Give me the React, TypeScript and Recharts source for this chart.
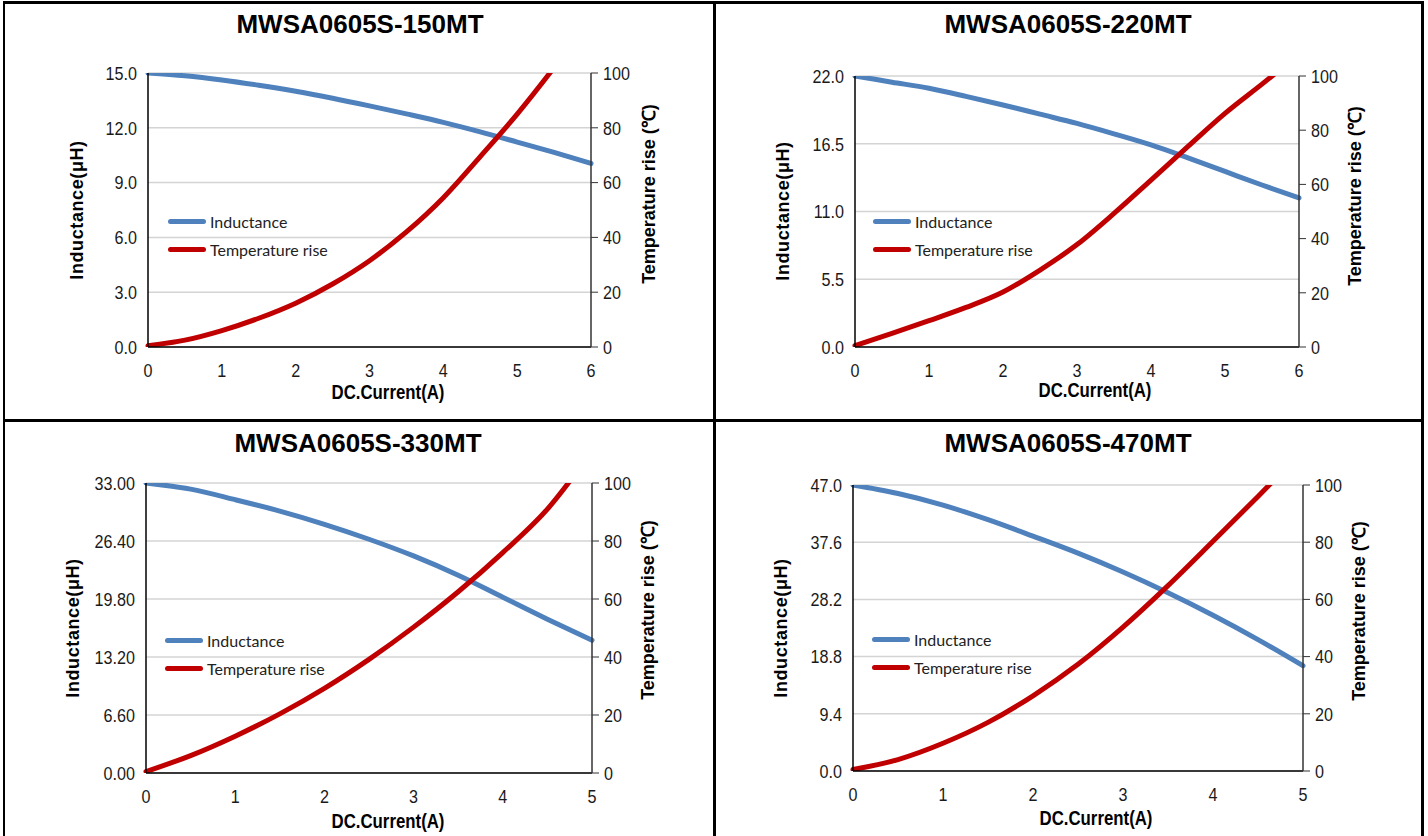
import React from "react";
import {
  LineChart,
  Line,
  XAxis,
  YAxis,
  CartesianGrid,
  Legend,
} from "recharts";

// ---- data ----
const titles = [
  "MWSA0605S-150MT",
  "MWSA0605S-220MT",
  "MWSA0605S-330MT",
  "MWSA0605S-470MT",
];

const current6 = [0, 0.5, 1, 1.5, 2, 2.5, 3, 3.5, 4, 4.5, 5, 5.5, 6];
const current5 = [0, 0.5, 1, 1.5, 2, 2.5, 3, 3.5, 4, 4.5, 5];

const inductance150 = [15.0, 14.85, 14.62, 14.33, 14.0, 13.62, 13.2, 12.76, 12.3, 11.78, 11.22, 10.65, 10.05];
const inductance220 = [22.0, 21.5, 21.0, 20.35, 19.65, 18.9, 18.15, 17.3, 16.4, 15.35, 14.25, 13.15, 12.1];
const inductance330 = [33.0, 32.3, 31.1, 29.8, 28.3, 26.6, 24.7, 22.5, 20.0, 17.5, 15.1];
const inductance470 = [47.0, 45.6, 43.7, 41.3, 38.6, 35.8, 32.7, 29.3, 25.6, 21.6, 17.3];

// temperature rise keeps going past 100 ℃; the axis clips it like the datasheet
const tempRise150 = [0.5, 2.5, 6, 10.5, 16, 23, 31.5, 42, 54.5, 69.5, 85, 102, 120];
const tempRise220 = [0.5, 5, 9.7, 14.6, 20.3, 28.4, 37.8, 49.3, 61.6, 74, 86.2, 97, 108];
const tempRise330 = [0.5, 6, 12.7, 20.4, 29.2, 39.2, 50.3, 62.5, 76, 91, 111];
const tempRise470 = [0.5, 4, 9.7, 17, 26.3, 37.3, 50.3, 64.8, 80.3, 96, 112];

const ticks150 = [0, 3, 6, 9, 12, 15];
const ticks220 = [0, 5.5, 11, 16.5, 22];
const ticks330 = [0, 6.6, 13.2, 19.8, 26.4, 33];
const ticks470 = [0, 9.4, 18.8, 28.2, 37.6, 47];
const tempTicks = [0, 20, 40, 60, 80, 100];

const BLUE = "#4F81BD";
const RED = "#C00000";
const SANS = "'Liberation Sans', Arial, sans-serif";
const NARROW = 0.85; // horizontal squeeze to mimic Arial Narrow

const YW = 60;
const XH = 30;

type PanelProps = {
  title: string;
  cell: { x: number; y: number; w: number; h: number };
  plot: { l: number; r: number; t: number; b: number };
  titleY: number;
  titleX: number;
  leftTitle: { x: number; y: number };
  rightTitle: { x: number; y: number };
  xTitle: { x: number; y: number };
  legendPos: { x: number; y: number };
  current: number[];
  inductance: number[];
  tempRise: number[];
  lTicks: number[];
  digits: number;
  xMax: number;
};

// narrow tick label: Liberation Sans squeezed horizontally
function NarrowTick(props: any) {
  const { x, y, payload, textAnchor, digits } = props;
  const label =
    typeof digits === "number" ? Number(payload.value).toFixed(digits) : String(payload.value);
  const dy = props.verticalAnchor === "start" ? "0.71em" : "0.355em";
  return (
    <g transform={`translate(${x},${y}) scale(${NARROW},1)`}>
      <text
        x={0}
        y={0}
        dy={dy}
        textAnchor={textAnchor}
        fontFamily={SANS}
        fontSize={19}
        fill="#1a1a1a"
      >
        {label}
      </text>
    </g>
  );
}

function renderLegend(props: any) {
  const { payload } = props;
  return (
    <div>
      {payload.map((e: any) => (
        <div
          key={e.value}
          style={{ display: "flex", alignItems: "center", height: 28 }}
        >
          <span
            style={{
              display: "inline-block",
              width: 38,
              height: 5,
              borderRadius: 3,
              background: e.color,
            }}
          />
          <span
            style={{
              marginLeft: 4,
              fontFamily: "Lato, 'Open Sans', sans-serif",
              fontSize: 16,
              color: "#222",
            }}
          >
            {e.value}
          </span>
        </div>
      ))}
    </div>
  );
}

function Panel(p: PanelProps) {
  const { cell, plot } = p;
  const margin = {
    left: plot.l - cell.x - YW,
    right: cell.x + cell.w - plot.r - YW,
    top: plot.t - cell.y,
    bottom: cell.y + cell.h - plot.b - XH,
  };
  const data = p.current.map((c, i) => ({
    x: c,
    ind: p.inductance[i],
    temp: p.tempRise[i],
  }));
  const xTicks = Array.from({ length: p.xMax + 1 }, (_, i) => i);
  const axisTitle: React.CSSProperties = {
    position: "absolute",
    fontFamily: SANS,
    fontWeight: "bold",
    fontSize: 18,
    whiteSpace: "nowrap",
    color: "#000",
  };

  return (
    <>
      <div
        style={{
          position: "absolute",
          left: cell.x,
          top: cell.y,
          width: cell.w,
          height: cell.h,
        }}
      >
        <LineChart width={cell.w} height={cell.h} data={data} margin={margin}>
          <CartesianGrid
            vertical={false}
            yAxisId="left"
            stroke="#d4d4d4"
            strokeWidth={1.5}
          />
          <XAxis
            dataKey="x"
            type="number"
            domain={[0, p.xMax]}
            ticks={xTicks}
            height={XH}
            tickSize={0}
            tickMargin={16}
            tick={<NarrowTick />}
            axisLine={{ stroke: "#000", strokeWidth: 1.5 }}
          />
          <YAxis
            yAxisId="left"
            orientation="left"
            type="number"
            domain={[0, p.lTicks[p.lTicks.length - 1]]}
            ticks={p.lTicks}
            width={YW}
            tickLine={false}
            tickSize={6}
            tickMargin={5}
            tick={<NarrowTick digits={p.digits} />}
            axisLine={{ stroke: "#000", strokeWidth: 1.5 }}
            allowDataOverflow
          />
          <YAxis
            yAxisId="right"
            orientation="right"
            type="number"
            domain={[0, 100]}
            ticks={tempTicks}
            width={YW}
            tickSize={7}
            tickMargin={5}
            tickLine={{ stroke: "#333" }}
            tick={<NarrowTick />}
            axisLine={{ stroke: "#333", strokeWidth: 1.5 }}
            allowDataOverflow
          />
          <Legend
            layout="horizontal"
            align="center"
            verticalAlign="middle"
            content={renderLegend}
            wrapperStyle={{
              position: "absolute",
              left: p.legendPos.x - cell.x,
              top: p.legendPos.y - cell.y - 14,
              width: "auto",
              height: "auto",
            }}
          />
          <Line
            yAxisId="left"
            dataKey="ind"
            name="Inductance"
            type="monotone"
            stroke={BLUE}
            strokeWidth={5}
            strokeLinecap="round"
            dot={false}
            activeDot={false}
            isAnimationActive={false}
          />
          <Line
            yAxisId="right"
            dataKey="temp"
            name="Temperature rise"
            type="monotone"
            stroke={RED}
            strokeWidth={5}
            strokeLinecap="round"
            dot={false}
            activeDot={false}
            isAnimationActive={false}
          />
        </LineChart>
      </div>
      <div
        style={{
          position: "absolute",
          left: p.titleX,
          top: p.titleY,
          transform: "translate(-50%, -50%)",
          fontFamily: SANS,
          fontWeight: "bold",
          fontSize: 26,
          whiteSpace: "nowrap",
        }}
      >
        {p.title}
      </div>
      <div
        style={{
          ...axisTitle,
          left: p.leftTitle.x,
          top: p.leftTitle.y,
          letterSpacing: 0.6,
          transform: "translate(-50%, -50%) rotate(-90deg)",
        }}
      >
        Inductance(μH)
      </div>
      <div
        style={{
          ...axisTitle,
          left: p.rightTitle.x,
          top: p.rightTitle.y,
          transform: "translate(-50%, -50%) rotate(-90deg)",
        }}
      >
        Temperature rise (℃)
      </div>
      <div
        style={{
          ...axisTitle,
          fontSize: 21,
          left: p.xTitle.x,
          top: p.xTitle.y,
          transform: `translate(-50%, -50%) scale(0.8, 1)`,
        }}
      >
        DC.Current(A)
      </div>
    </>
  );
}

function Border({ l, t, w, h }: { l: number; t: number; w: number; h: number }) {
  return (
    <div
      style={{
        position: "absolute",
        left: l,
        top: t,
        width: w,
        height: h,
        background: "#000",
        zIndex: 5,
      }}
    />
  );
}

export default function App() {
  return (
    <div
      style={{
        position: "absolute",
        left: 0,
        top: 0,
        width: 1428,
        height: 836,
        background: "#fff",
        overflow: "hidden",
      }}
    >
      <Panel
        title={titles[0]}
        cell={{ x: 0, y: 0, w: 714, h: 419 }}
        plot={{ l: 148, r: 591, t: 73, b: 347 }}
        titleX={360}
        titleY={24}
        leftTitle={{ x: 77, y: 210 }}
        rightTitle={{ x: 648, y: 194 }}
        xTitle={{ x: 388, y: 392 }}
        legendPos={{ x: 168, y: 221 }}
        current={current6}
        inductance={inductance150}
        tempRise={tempRise150}
        lTicks={ticks150}
        digits={1}
        xMax={6}
      />
      <Panel
        title={titles[1]}
        cell={{ x: 714, y: 0, w: 714, h: 419 }}
        plot={{ l: 855, r: 1299, t: 76, b: 347 }}
        titleX={1068}
        titleY={24}
        leftTitle={{ x: 783, y: 211 }}
        rightTitle={{ x: 1354, y: 196 }}
        xTitle={{ x: 1095, y: 390 }}
        legendPos={{ x: 873, y: 221 }}
        current={current6}
        inductance={inductance220}
        tempRise={tempRise220}
        lTicks={ticks220}
        digits={1}
        xMax={6}
      />
      <Panel
        title={titles[2]}
        cell={{ x: 0, y: 419, w: 714, h: 417 }}
        plot={{ l: 146, r: 592, t: 483, b: 773 }}
        titleX={358}
        titleY={443}
        leftTitle={{ x: 73, y: 628 }}
        rightTitle={{ x: 647, y: 610 }}
        xTitle={{ x: 388, y: 821 }}
        legendPos={{ x: 165, y: 640 }}
        current={current5}
        inductance={inductance330}
        tempRise={tempRise330}
        lTicks={ticks330}
        digits={2}
        xMax={5}
      />
      <Panel
        title={titles[3]}
        cell={{ x: 714, y: 419, w: 714, h: 417 }}
        plot={{ l: 853, r: 1303, t: 485, b: 771 }}
        titleX={1068}
        titleY={443}
        leftTitle={{ x: 781, y: 628 }}
        rightTitle={{ x: 1358, y: 611 }}
        xTitle={{ x: 1096, y: 818 }}
        legendPos={{ x: 872, y: 639 }}
        current={current5}
        inductance={inductance470}
        tempRise={tempRise470}
        lTicks={ticks470}
        digits={1}
        xMax={5}
      />
      <Border l={3} t={1} w={1421} h={3} />
      <Border l={3} t={1} w={2} h={835} />
      <Border l={1421} t={1} w={3} h={835} />
      <Border l={713} t={1} w={3} h={835} />
      <Border l={3} t={419} w={1421} h={3} />
    </div>
  );
}
